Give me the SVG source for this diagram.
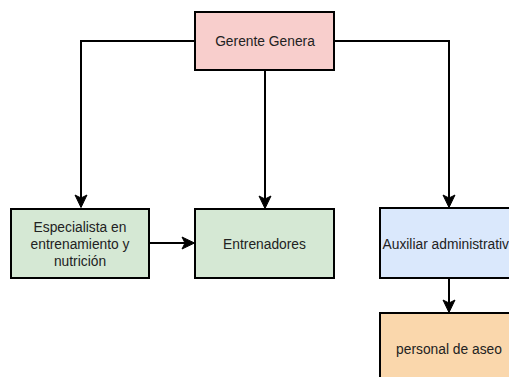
<svg xmlns="http://www.w3.org/2000/svg" width="509" height="377" viewBox="0 0 509 377">
<defs>
<style>
.box{stroke:#000;stroke-width:2}
.lbl{font-family:"Liberation Sans",Arial,sans-serif;font-size:13.8px;fill:#222;text-anchor:middle}
.edge{fill:none;stroke:#000;stroke-width:2}
.head{fill:#000;stroke:#000;stroke-width:1}
</style>
</defs>
<rect width="509" height="377" fill="#fff"/>
<g id="connectors">
<path class="edge" d="M195,41 H81 V198"/>
<path class="head" d="M75,195 L81,207.5 L87,195 L81,198 Z"/>
<path class="edge" d="M265,70 V199"/>
<path class="head" d="M259,196 L265,208.5 L271,196 L265,199 Z"/>
<path class="edge" d="M334,41 H449 V198"/>
<path class="head" d="M443,195 L449,207.5 L455,195 L449,198 Z"/>
<path class="edge" d="M149,243 H185"/>
<path class="head" d="M182,237 L194.5,243 L182,249 L185,243 Z"/>
<path class="edge" d="M449,278 V303"/>
<path class="head" d="M443,300 L449,312.5 L455,300 L449,303 Z"/>
</g>
<g id="gerente">
<rect class="box" x="195" y="12" width="139" height="58" fill="#f8cecc"/>
<text class="lbl" x="265" y="46">Gerente Genera</text>
</g>
<g id="especialista">
<rect class="box" x="11" y="209" width="138" height="69" fill="#d5e8d4"/>
<text class="lbl" x="80" y="232">Especialista en</text>
<text class="lbl" x="80" y="249">entrenamiento y</text>
<text class="lbl" x="80" y="266">nutrición</text>
</g>
<g id="entrenadores">
<rect class="box" x="195" y="209" width="139" height="69" fill="#d5e8d4"/>
<text class="lbl" x="264.5" y="249">Entrenadores</text>
</g>
<g id="auxiliar">
<rect class="box" x="380" y="208" width="139" height="70" fill="#dae8fc"/>
<text class="lbl" x="382.5" y="248.5" style="text-anchor:start">Auxiliar administrativ</text>
</g>
<g id="aseo">
<rect class="box" x="380" y="313" width="139" height="70" fill="#fad7ac"/>
<text class="lbl" x="449" y="354">personal de aseo</text>
</g>
</svg>
